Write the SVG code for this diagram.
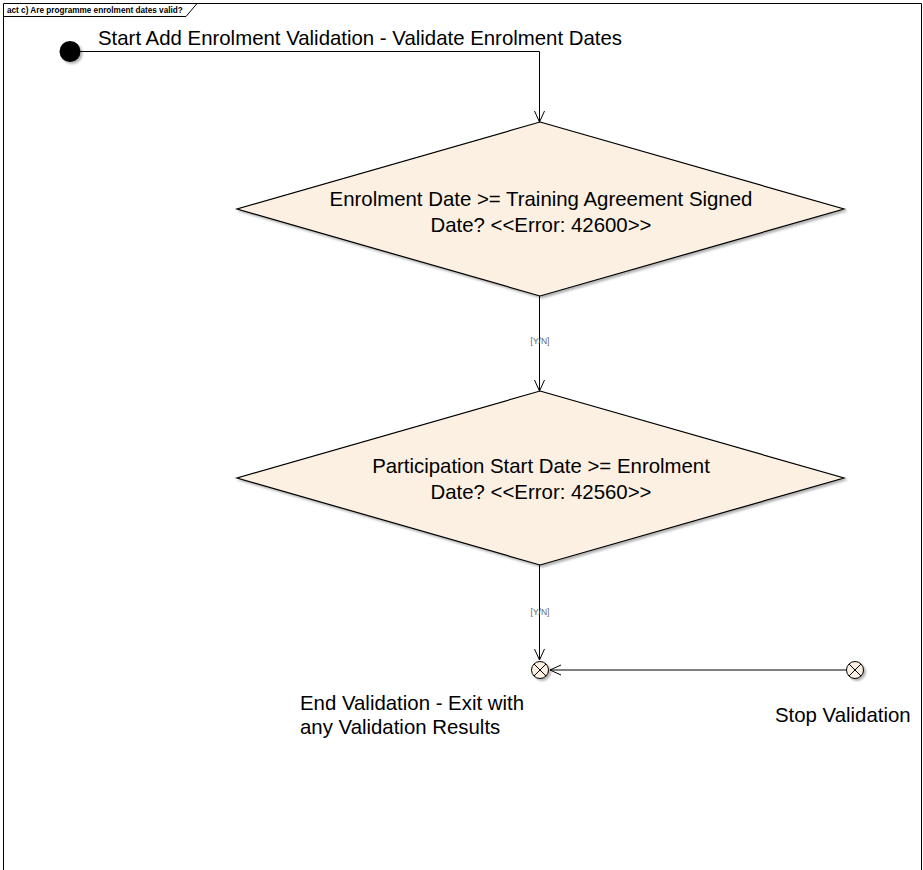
<svg xmlns="http://www.w3.org/2000/svg" width="923" height="870" viewBox="0 0 923 870">
<defs>
<style>
text{font-family:"Liberation Sans",Arial,sans-serif;fill:#000}
.lbl{font-size:20.4px}
.dec{fill:#FBF0E2;stroke:#000;stroke-width:1.2}
.edge{fill:none;stroke:#000;stroke-width:1}
.guard{font-size:8.5px;fill:#666;text-anchor:middle}
.fin{fill:#FBF0E2;stroke:#000;stroke-width:1}
</style>
<marker id="arr" viewBox="0 0 12 12" refX="11" refY="6" markerWidth="12" markerHeight="12" markerUnits="userSpaceOnUse" orient="auto">
<path d="M0,1 L11,6 L0,11" fill="none" stroke="#000" stroke-width="1"/>
</marker>
<filter id="sh" x="-50%" y="-50%" width="200%" height="200%">
<feDropShadow dx="2" dy="2" stdDeviation="1.2" flood-color="#000" flood-opacity="0.3"/>
</filter>
</defs>
<rect width="923" height="870" fill="#fff"/>
<g id="frame">
<path d="M3.5,875 V3.5 H921.5 V875" fill="none" stroke="#000" stroke-width="1"/>
<path d="M3.5,16.5 H186 L197,3.5" fill="none" stroke="#000" stroke-width="1"/>
<text x="7" y="13" style="font-size:8.2px;font-weight:bold">act c) Are programme enrolment dates valid?</text>
</g>
<g id="connectors">
<path class="edge" d="M70,51.5 H539.5 V122" marker-end="url(#arr)"/>
<path class="edge" d="M539.5,296 V391" marker-end="url(#arr)"/>
<path class="edge" d="M539.5,565 V660" marker-end="url(#arr)"/>
<path class="edge" d="M846,670 H550" marker-end="url(#arr)"/>
<text class="guard" x="540" y="344">[Y/N]</text>
<text class="guard" x="540" y="615">[Y/N]</text>
</g>
<g id="start">
<circle cx="70" cy="51.5" r="10.5" fill="#000" filter="url(#sh)"/>
<text class="lbl" x="98" y="45">Start Add Enrolment Validation - Validate Enrolment Dates</text>
</g>
<g id="decision1">
<polygon class="dec" points="540,122 844,209 540,296 237,209" filter="url(#sh)"/>
<text class="lbl" x="541" y="206" text-anchor="middle">Enrolment Date &gt;= Training Agreement Signed</text>
<text class="lbl" x="541" y="232" text-anchor="middle">Date? &lt;&lt;Error: 42600&gt;&gt;</text>
</g>
<g id="decision2">
<polygon class="dec" points="540,391 844,478 540,565 237,478" filter="url(#sh)"/>
<text class="lbl" x="541" y="473" text-anchor="middle">Participation Start Date &gt;= Enrolment</text>
<text class="lbl" x="541" y="499" text-anchor="middle">Date? &lt;&lt;Error: 42560&gt;&gt;</text>
</g>
<g id="endValidation">
<circle class="fin" cx="540" cy="670" r="8.5" filter="url(#sh)"/>
<path d="M534,664 L546,676 M546,664 L534,676" stroke="#000" stroke-width="1"/>
<text class="lbl" x="300" y="710">End Validation - Exit with</text>
<text class="lbl" x="300" y="734">any Validation Results</text>
</g>
<g id="stopValidation">
<circle class="fin" cx="855" cy="670" r="8.5" filter="url(#sh)"/>
<path d="M849,664 L861,676 M861,664 L849,676" stroke="#000" stroke-width="1"/>
<text class="lbl" x="775" y="722">Stop Validation</text>
</g>
</svg>
